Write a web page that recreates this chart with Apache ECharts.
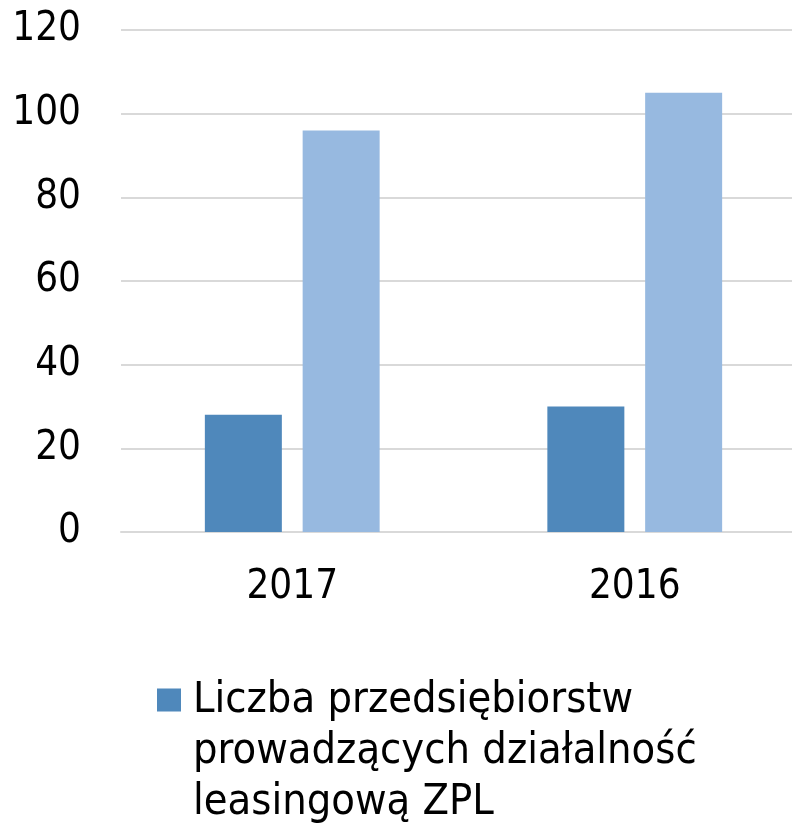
<!DOCTYPE html>
<html>
<head>
<meta charset="utf-8">
<script src="https://cdn.jsdelivr.net/npm/echarts@6/dist/echarts.min.js"></script>
<style>
  html, body { margin: 0; padding: 0; background: #fff; }
  #chart { width: 792px; height: 824px; }
</style>
</head>
<body>
<div id="chart"></div>
<script>
var years = ['2017', '2016']
var seriesNames = [
  'Liczba przedsiębiorstw\nprowadzących działalność\nleasingową ZPL',
  'Seria 2'
]
var firmCounts = [28, 30]
var otherValues = [96, 105]
var yTicks = { min: 0, max: 120, interval: 20 }

var font = '"DejaVu Sans Condensed", "Noto Sans", sans-serif'
var chart = echarts.init(document.getElementById('chart'))

// legend icon: square at top, invisible line stretches the box so the square sits on line 1
chart.setOption({
  animation: false,
  textStyle: { fontFamily: font },
  grid: {
    left: 121,
    right: -14,
    top: 30,
    bottom: 292,
    outerBoundsMode: 'none'
  },
  legend: {
    data: [seriesNames[0]],
    left: 157,
    top: 675,
    padding: 0,
    itemWidth: 31,
    itemHeight: 126,
    itemGap: 0,
    icon: 'path://M0,0H24V23H0Z M0,126L31,126',
    textStyle: {
      fontFamily: font,
      fontSize: 43,
      color: '#000',
      lineHeight: 51
    }
  },
  xAxis: {
    type: 'category',
    data: years,
    axisLine: { lineStyle: { color: '#d9d9d9', width: 2 } },
    axisTick: { show: false },
    axisLabel: {
      color: '#000',
      fontSize: 40,
      margin: 36
    }
  },
  yAxis: {
    type: 'value',
    min: yTicks.min,
    max: yTicks.max,
    interval: yTicks.interval,
    axisLine: { show: false },
    axisTick: { show: false },
    splitLine: { lineStyle: { color: '#d9d9d9', width: 2 } },
    axisLabel: {
      color: '#000',
      fontSize: 40,
      margin: 40
    }
  },
  series: [
    {
      name: seriesNames[0],
      type: 'bar',
      data: firmCounts,
      barWidth: 77,
      barGap: '27%',
      itemStyle: { color: '#4f88bb' }
    },
    {
      name: seriesNames[1],
      type: 'bar',
      data: otherValues,
      barWidth: 77,
      barGap: '27%',
      itemStyle: { color: '#97b9e0' }
    }
  ]
})
</script>
</body>
</html>
